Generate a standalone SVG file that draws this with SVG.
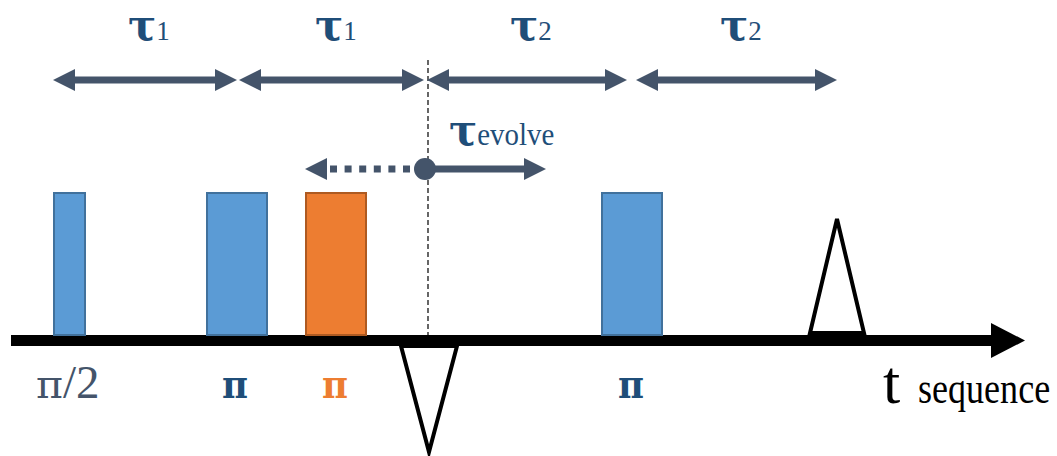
<svg xmlns="http://www.w3.org/2000/svg" width="1057" height="456" viewBox="0 0 1057 456">
  <style>
    .lbl { font-family: "Liberation Serif", "Times New Roman", serif; }
    .greek { font-family: "DejaVu Serif", "Liberation Serif", serif; }
    .tau { font-size: 42px; font-weight: bold; fill: #1F4E79; }
    .sub { font-size: 27px; fill: #1F4E79; }
    .span { stroke: #44546A; stroke-width: 7; fill: none; }
    .pulse-b { fill: #5B9BD5; stroke: #41719C; stroke-width: 2; }
    .pulse-o { fill: #ED7D31; stroke: #AE5A21; stroke-width: 2; }
    .tri { fill: #FFFFFF; stroke: #000000; stroke-width: 4; stroke-linejoin: miter; }
    .pib { font-size: 40px; font-weight: bold; fill: #1F4E79; }
    .pio { font-size: 40px; font-weight: bold; fill: #ED7D31; }
  </style>
  <defs>
    <marker id="ah" markerUnits="userSpaceOnUse" markerWidth="22" markerHeight="22" viewBox="0 0 22 22" refX="12" refY="11" orient="auto-start-reverse">
      <path d="M0,0 L22,11 L0,22 z" fill="#44546A"/>
    </marker>
  </defs>

  <!-- time axis -->
  <g id="axis">
    <rect x="11" y="335" width="982" height="11" fill="#000000"/>
    <polygon points="991,323 1025,340.5 991,358" fill="#000000"/>
    <text class="lbl" x="883" y="403" font-size="62" fill="#000000">t</text>
    <text class="lbl" transform="translate(918,403) scale(0.82,1)" x="0" y="0" font-size="44" fill="#000000">sequence</text>
  </g>

  <!-- dashed reference line -->
  <line x1="428" y1="60" x2="428" y2="336" stroke="#000000" stroke-width="1.2" stroke-dasharray="5 3"/>

  <!-- pulses -->
  <g id="pulse-pi2">
    <rect class="pulse-b" x="54" y="193" width="31" height="142"/>
    <text x="36" y="398" fill="#44546A"><tspan class="greek" font-size="40" textLength="27" lengthAdjust="spacingAndGlyphs">π</tspan><tspan class="lbl" font-size="47">/2</tspan></text>
  </g>
  <g id="pulse-pi1">
    <rect class="pulse-b" x="207" y="193" width="60" height="142"/>
    <text class="greek pib" x="222" y="398" textLength="26" lengthAdjust="spacingAndGlyphs">π</text>
  </g>
  <g id="pulse-pi-orange">
    <rect class="pulse-o" x="306" y="193" width="60" height="142"/>
    <text class="greek pio" x="322" y="398" textLength="26" lengthAdjust="spacingAndGlyphs">π</text>
  </g>
  <g id="pulse-pi2nd">
    <rect class="pulse-b" x="602" y="193" width="60" height="142"/>
    <text class="greek pib" x="618" y="398" textLength="26" lengthAdjust="spacingAndGlyphs">π</text>
  </g>

  <!-- triangles -->
  <g id="tri-down">
    <polygon class="tri" points="401,346 457,346 429,452"/>
  </g>
  <g id="tri-up">
    <polygon class="tri" points="810,333 864,333 837,219"/>
  </g>

  <!-- interval labels -->
  <g id="label-tau1a"><text x="128" y="40"><tspan class="greek tau">τ</tspan><tspan class="lbl sub">1</tspan></text></g>
  <g id="label-tau1b"><text x="315" y="40"><tspan class="greek tau">τ</tspan><tspan class="lbl sub">1</tspan></text></g>
  <g id="label-tau2a"><text x="510" y="40"><tspan class="greek tau">τ</tspan><tspan class="lbl sub">2</tspan></text></g>
  <g id="label-tau2b"><text x="720" y="40"><tspan class="greek tau">τ</tspan><tspan class="lbl sub">2</tspan></text></g>
  <g id="label-tauevolve"><text x="449" y="145"><tspan class="greek tau">τ</tspan><tspan class="lbl" font-size="32" fill="#1F4E79" textLength="77" lengthAdjust="spacingAndGlyphs">evolve</tspan></text></g>

  <!-- connectors -->
  <g id="connectors">
    <line class="span" x1="63" y1="80" x2="227" y2="80" marker-start="url(#ah)" marker-end="url(#ah)"/>
    <line class="span" x1="249" y1="80" x2="414" y2="80" marker-start="url(#ah)" marker-end="url(#ah)"/>
    <line class="span" x1="437" y1="80" x2="617" y2="80" marker-start="url(#ah)" marker-end="url(#ah)"/>
    <line class="span" x1="646" y1="80" x2="827" y2="80" marker-start="url(#ah)" marker-end="url(#ah)"/>
    <line class="span" x1="425" y1="169" x2="536" y2="169" marker-end="url(#ah)"/>
    <line x1="330" y1="169" x2="420" y2="169" stroke="#44546A" stroke-width="7" stroke-dasharray="7 7.6"/>
    <polygon points="327,158 305,169 327,180" fill="#44546A"/>
    <circle cx="425" cy="169" r="11" fill="#44546A"/>
  </g>
</svg>
